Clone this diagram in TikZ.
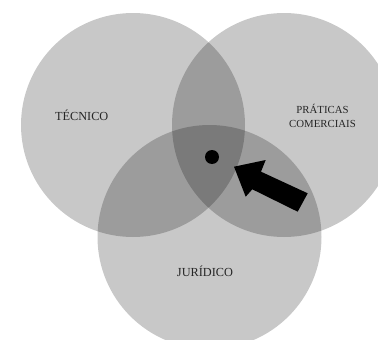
\documentclass[tikz,border=0pt]{standalone}
\usepackage{fontspec}
\setmainfont{Liberation Serif}
\begin{document}
\begin{tikzpicture}[x=1pt,y=-1pt,
  venn/.style={fill=black,fill opacity=0.215,draw=none},
  lbl/.style={font=\fontsize{12.3}{14}\selectfont,text=black!85,align=center,inner sep=0pt},
  lbls/.style={lbl,font=\fontsize{10.8}{14.3}\selectfont}]
\useasboundingbox (0,0) rectangle (378,340);
\fill[white] (0,0) rectangle (378,340);
\begin{scope}
\clip (0,0) rectangle (378,340);
\fill[venn] (133,125) circle (112);
\fill[venn] (284,125) circle (112);
\fill[venn] (209.5,237) circle (112);
\end{scope}
\node[lbl] (tec) at (81.7,115.5) {TÉCNICO};
\node[lbls] (pra) at (322.5,116) {PRÁTICAS\\COMERCIAIS};
\node[lbl] (jur) at (205,271.5) {JURÍDICO};
\node[circle,fill=black,minimum size=14pt,inner sep=0pt] (dot) at (212,157) {};
\fill[black] (234,166.7) -- (265.7,160) -- (261,171.7) -- (307.7,193.3) -- (297.7,211.7) -- (252.3,189.3) -- (245.7,196.7) -- cycle;
\end{tikzpicture}
\end{document}
